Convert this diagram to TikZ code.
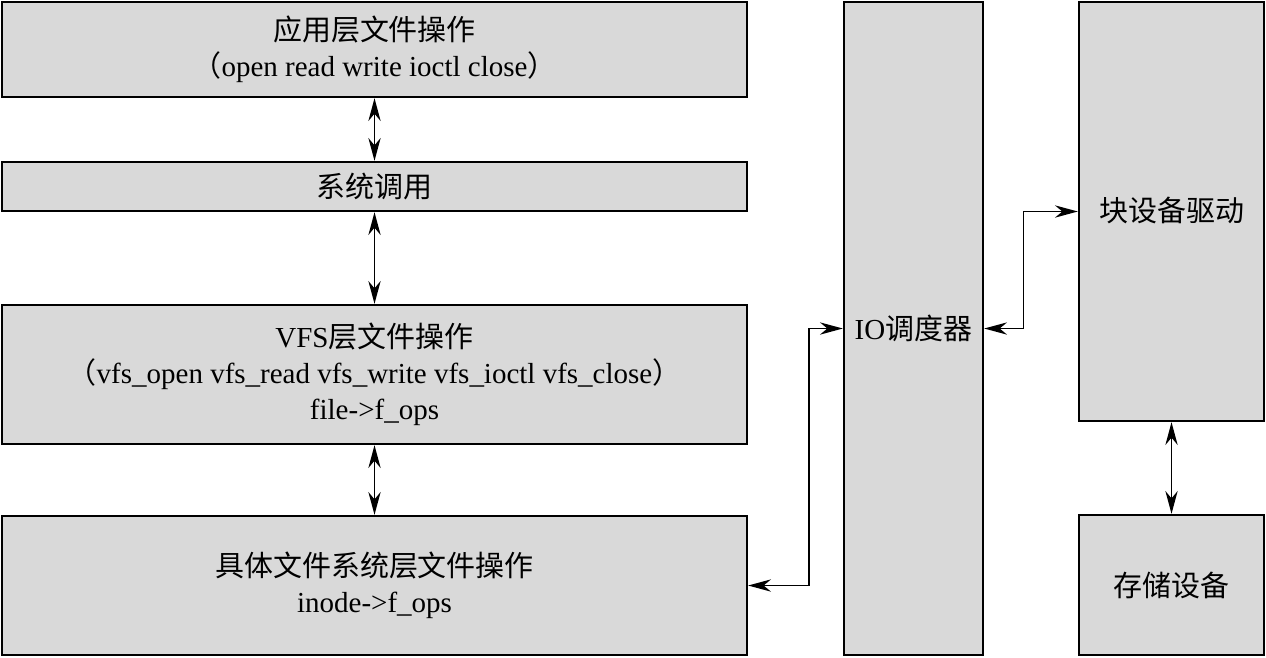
\documentclass[tikz,border=0pt]{standalone}
\usepackage{fontspec}
\setmainfont{Liberation Serif}
\newfontfamily\cjk{Noto Sans CJK SC}
\newcommand{\zh}[1]{{\cjk #1}}
\usetikzlibrary{positioning, arrows.meta, calc}
\definecolor{boxgray}{HTML}{D9D9D9}
\tikzset{layerchart/.style={
    x=0.02cm, y=-0.02cm,
    box/.style={rectangle, draw=black, line width=1.4pt, fill=boxgray, align=center, inner sep=0pt, font=\fontsize{16.5}{20.5}\selectfont},
    caption/.style={align=center, inner sep=0pt, font=\fontsize{16.5}{20.5}\selectfont},
    link/.style={line width=0.8pt, {Stealth[length=13pt, width=7pt]}-{Stealth[length=13pt, width=7pt]}},
}}

\begin{document}
\begin{tikzpicture}[layerchart]
    \useasboundingbox (0,0) rectangle (1266,657);
    \node[box, minimum width=14.9cm, minimum height=1.9cm] (app) at (374.5,49.5)
        {\zh{应用层文件操作}\\\zh{（}open read write ioctl close\zh{）}};
    \node[box, minimum width=14.9cm, minimum height=0.98cm] (sys) at (374.5,186.5) {\zh{系统调用}};
    \node[box, minimum width=14.9cm, minimum height=2.78cm] (vfs) at (374.5,374.5)
        {VFS\zh{层文件操作}\\\zh{（}vfs\_open vfs\_read vfs\_write vfs\_ioctl vfs\_close\zh{）}\\file->f\_ops};
    \node[box, minimum width=14.9cm, minimum height=2.78cm] (fs) at (374.5,585.5)
        {\zh{具体文件系统层文件操作}\\inode->f\_ops};
    \node[box, minimum width=2.78cm, minimum height=13.06cm] (io) at (913.5,328.5) {IO\zh{调度器}};
    \node[box, minimum width=3.7cm, minimum height=8.38cm] (blk) at (1171.5,211.5) {};
    \node[caption] (blktext) at (1171.5,210) {\zh{块设备驱动}};
    \node[box, minimum width=3.7cm, minimum height=2.8cm] (disk) at (1171.5,585) {\zh{存储设备}};

    \draw[link] (app.south) -- (sys.north);
    \draw[link] (sys.south) -- (vfs.north);
    \draw[link] (vfs.south) -- (fs.north);
    \draw[link] (fs.east) -- ++(61,0) |- (io.west);
    \draw[link] (io.east) -- ++(39,0) |- (blk.west);
    \draw[link] (blk.south) -- (disk.north);
\end{tikzpicture}
\end{document}
